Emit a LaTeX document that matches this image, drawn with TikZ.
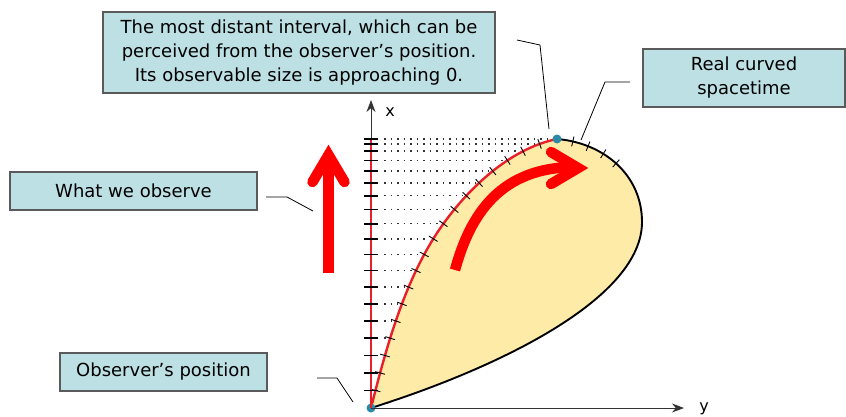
\documentclass[tikz,border=0pt]{standalone}
\usepackage{fontspec}
\setmainfont{DejaVu Sans}
\usetikzlibrary{arrows.meta,decorations.markings}
\definecolor{boxfill}{HTML}{BCE0E4}
\definecolor{boxline}{HTML}{5A5A5A}
\definecolor{drop}{HTML}{FFEBA8}
\definecolor{curvered}{HTML}{E8202A}
\definecolor{dotteal}{HTML}{2A8BA8}
\begin{document}
\begin{tikzpicture}[x=1pt,y=-1pt,
 callout/.style={draw=boxline, line width=1.2pt, fill=boxfill, align=center, inner sep=0pt, font=\fontsize{18}{24}\selectfont},
 leader/.style={draw=black, line width=0.8pt},
 axisline/.style={draw=black!80, line width=1pt, -{Stealth[length=12pt,width=9pt]}},
 axtick/.style={draw=black, line width=1.6pt},
 curvetick/.style={draw=black, line width=0.9pt},
 dots/.style={draw=black!80, line width=1.5pt, dash pattern=on 1.5pt off 5pt},
 bigarrow/.style={draw=red, line width=10.5pt},
 ]
\useasboundingbox (0,0) rectangle (846,416);
\coordinate (O) at (371,408);
\coordinate (M) at (437,233);
\coordinate (D) at (557,139);
\coordinate (R) at (642,222);
\coordinate (XT) at (371,100);
\coordinate (YT) at (684,408);

% teardrop
\fill[drop] (O) .. controls (386,348) and (404,283) .. (M) .. controls (464.5,191.5) and (508,149) .. (D)
  .. controls (604,143) and (642,175) .. (R) .. controls (642,297) and (504,366) .. (O) -- cycle;
\draw[line width=1.9pt] (D) .. controls (604,143) and (642,175) .. (R) .. controls (642,297) and (504,366) .. (O);

% ticks on the black part
\foreach \d in {16,32,49,65} {
  \path[decorate, decoration={markings, mark=at position \d pt with {\draw[curvetick] (0,-5) -- (0,5);}}]
    (D) .. controls (604,143) and (642,175) .. (R);
}

% red curve
\draw[curvered, line width=2.4pt] (O) .. controls (386,348) and (404,283) .. (M) .. controls (464.5,191.5) and (508,149) .. (D);
\foreach \k in {1,...,18} {
  \pgfmathsetmacro\pos{\k/19}
  \path[decorate, decoration={markings, mark=at position \pos with {\coordinate (t\k); \draw[curvetick] (0,-5) -- (0,5);}}]
    (O) .. controls (386,348) and (404,283) .. (M) .. controls (464.5,191.5) and (508,149) .. (D);
}

% axes
\fill[dotteal] (O) circle (4.5);
\draw[axisline] (O) -- (XT);
\draw[axisline] (O) -- (YT);
\draw[curvered, line width=2.6pt] (O) -- (O |- D);

% axis ticks and dotted lines
\foreach \k in {1,...,18} {
  \draw[axtick] ([xshift=-7pt]t\k -| O) -- ([xshift=7pt]t\k -| O);
  \ifnum\k>3
    \draw[dots] ([xshift=13pt]t\k -| O) -- ([xshift=-4pt]t\k);
  \fi
}
\draw[axtick] ([xshift=-7pt]D -| O) -- ([xshift=7pt]D -| O);
\draw[dots] ([xshift=13pt]D -| O) -- ([xshift=-6pt]D);

% big red arrows
\draw[bigarrow] (328.5,273) -- (328.5,160);
\draw[bigarrow, line cap=round, line join=miter] (312.5,182) -- (328.5,155) -- (344.5,182);
\draw[bigarrow] (455,270) .. controls (470,215) and (500,167) .. (576,167);
\draw[bigarrow, line cap=round, line join=miter] (551,152) -- (578,168) -- (551,184);

\fill[dotteal] (D) circle (4.5);

% axis labels
\node[font=\fontsize{16}{16}\selectfont] (xl) at (390,112) {x};
\node[font=\fontsize{16}{16}\selectfont, anchor=base] (yl) at (704,411) {y};

% callouts
\node[callout, minimum width=247pt, minimum height=38pt] (obs) at (133.5,191) {What we observe};
\node[callout, minimum width=207pt, minimum height=38pt] (pos) at (163.5,372) {Observer’s position};
\node[callout, minimum width=392pt, minimum height=81pt] (far) at (299,52.5)
  {The most distant interval, which can be\\perceived from the observer’s position.\\Its observable size is approaching 0.};
\node[callout, minimum width=202pt, minimum height=58pt] (real) at (744,78) {Real curved\\spacetime};

% leaders
\coordinate (l1a) at (266,197); \coordinate (l1b) at (287,197); \coordinate (l1c) at (313,211);
\draw[leader] (l1a) -- (l1b) -- (l1c);
\coordinate (l2a) at (317,378); \coordinate (l2b) at (337,378); \coordinate (l2c) at (353,402);
\draw[leader] (l2a) -- (l2b) -- (l2c);
\coordinate (l3a) at (517,40); \coordinate (l3b) at (540,45); \coordinate (l3c) at (549,129);
\draw[leader] (l3a) -- (l3b) -- (l3c);
\coordinate (l4a) at (630,82); \coordinate (l4b) at (605,82); \coordinate (l4c) at (581,140);
\draw[leader] (l4a) -- (l4b) -- (l4c);
\end{tikzpicture}
\end{document}
